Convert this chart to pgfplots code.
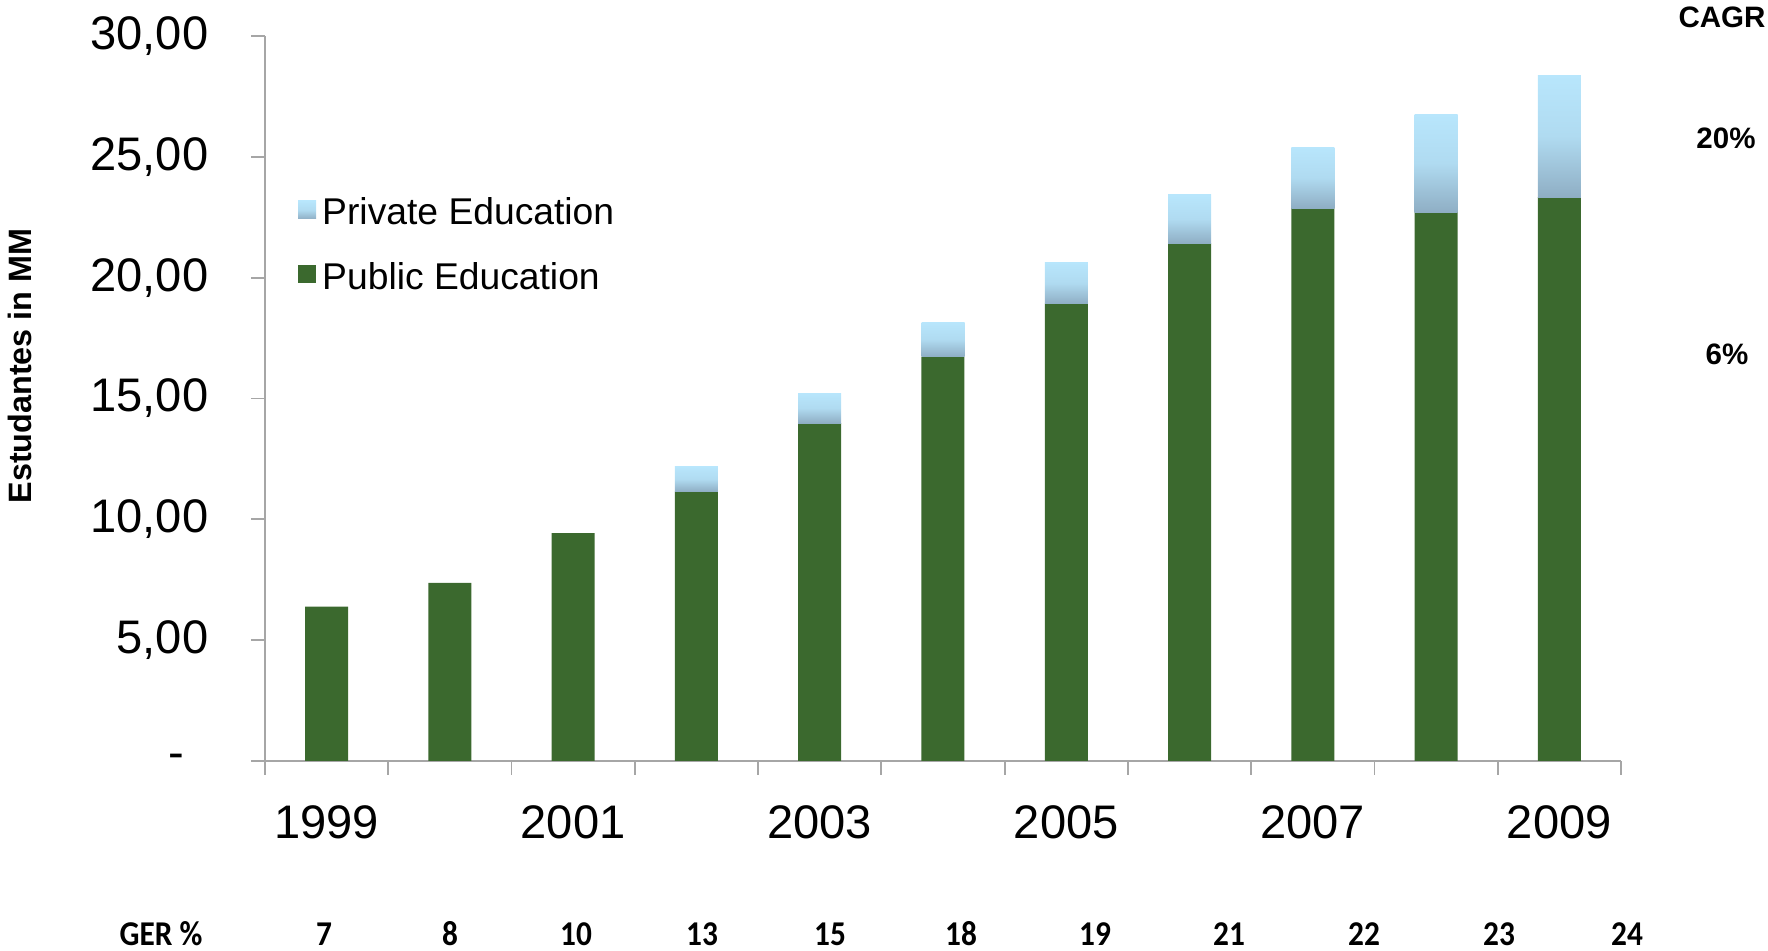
\documentclass[border=0pt]{standalone}
\usepackage{fontspec}
\setmainfont{Liberation Sans}
\newfontfamily\carlito{Carlito}
\usepackage{pgfplots}
\pgfplotsset{compat=1.18}
\definecolor{pubgreen}{HTML}{3B692E}
\definecolor{privtop}{HTML}{B8E6FC}
\definecolor{privbot}{HTML}{8FAEC4}
\definecolor{axgray}{HTML}{A6A6A6}
\newcommand{\tickfont}{\fontsize{13.4}{16}\selectfont}
\pgfplotsset{
  base/.style={at={(26.5mm,19.0mm)}, anchor=south west,
    scale only axis, width=135.6mm, height=72.5mm,
    xmin=-0.5, xmax=10.5, ymin=0, ymax=30,
    ybar stacked, bar width=4.3mm},
  over/.style={base, hide axis},
  pub/.style={fill=pubgreen, draw=none},
  priv/.style={top color=privtop, bottom color=privbot, middle color=privtop!80!privbot, draw=none},
  ghost/.style={draw=none, fill=none},
}
\begin{document}
\begin{tikzpicture}
\useasboundingbox (0,0) rectangle (176.8mm,95.1mm);
\begin{axis}[
  base,
  axis x line*=bottom, axis y line*=left,
  axis line style={draw=axgray, line width=0.5pt},
  tick style={draw=axgray, line width=0.5pt},
  tick align=outside, major tick length=1.4mm,
  xtick={-0.5,0.5,...,10.5},
  x tick label as interval,
  xticklabels={1999,,2001,,2003,,2005,,2007,,2009},
  xticklabel style={font=\tickfont, anchor=north, inner sep=0pt, yshift=-3.0mm},
  ytick={0,5,...,30},
  yticklabels={{\makebox[3.95mm][l]{-}},{5,00},{10,00},{15,00},{20,00},{25,00},{30,00}},
  yticklabel style={font=\tickfont, anchor=east, inner sep=0pt, xshift=-4.2mm},
  legend cell align=left,
  legend style={at={(0.024,0.786)}, anchor=north west, draw=none, fill=none,
    font=\fontsize{10.6}{12}\selectfont, row sep=2.0mm, inner sep=0pt,
    nodes={inner sep=0.6mm}},
  legend image code/.code={\path[#1, draw=none] (0mm,-0.5mm) rectangle (1.8mm,1.3mm);},
]
\addlegendimage{priv}
\addlegendentry{Private Education}
\addplot[pub] coordinates {
 (0,6.39) (1,7.37) (2,9.43) (3,11.15) (4,13.98) (5,16.73) (6,18.92) (7,21.42) (8,22.88) (9,22.71) (10,23.33)};
\addlegendentry{Public Education}
\end{axis}
% private education bars, one per axis so each bar gets its own gradient
\begin{axis}[over]
\addplot[ghost] coordinates {(3,11.15)};
\addplot[priv] coordinates {(3,1.02)};
\end{axis}
\begin{axis}[over]
\addplot[ghost] coordinates {(4,13.98)};
\addplot[priv] coordinates {(4,1.24)};
\end{axis}
\begin{axis}[over]
\addplot[ghost] coordinates {(5,16.73)};
\addplot[priv] coordinates {(5,1.43)};
\end{axis}
\begin{axis}[over]
\addplot[ghost] coordinates {(6,18.92)};
\addplot[priv] coordinates {(6,1.72)};
\end{axis}
\begin{axis}[over]
\addplot[ghost] coordinates {(7,21.42)};
\addplot[priv] coordinates {(7,2.00)};
\end{axis}
\begin{axis}[over]
\addplot[ghost] coordinates {(8,22.88)};
\addplot[priv] coordinates {(8,2.52)};
\end{axis}
\begin{axis}[over]
\addplot[ghost] coordinates {(9,22.71)};
\addplot[priv] coordinates {(9,4.06)};
\end{axis}
\begin{axis}[over]
\addplot[ghost] coordinates {(10,23.33)};
\addplot[priv] coordinates {(10,5.05)};
\end{axis}
\node[rotate=90, font=\bfseries\fontsize{9.2}{11}\selectfont] at (2.0mm,58.5mm) {Estudantes in MM};
\node[font=\bfseries\fontsize{8.4}{10}\selectfont] at (172.2mm,93.4mm) {CAGR};
\node[font=\bfseries\fontsize{8.4}{10}\selectfont] at (172.6mm,81.3mm) {20\%};
\node[font=\bfseries\fontsize{8.4}{10}\selectfont] at (172.7mm,59.7mm) {6\%};
\foreach \xx/\lab in {16.1/GER \%,32.4/7,45.0/8,57.6/10,70.2/13,83.0/15,96.1/18,109.5/19,122.9/21,136.4/22,149.9/23,162.7/24}{
  \node[font=\carlito\bfseries\fontsize{9.9}{12}\selectfont] at (\xx mm,1.7mm) {\scalebox{0.9}[1]{\lab}};
}
\end{tikzpicture}
\end{document}
